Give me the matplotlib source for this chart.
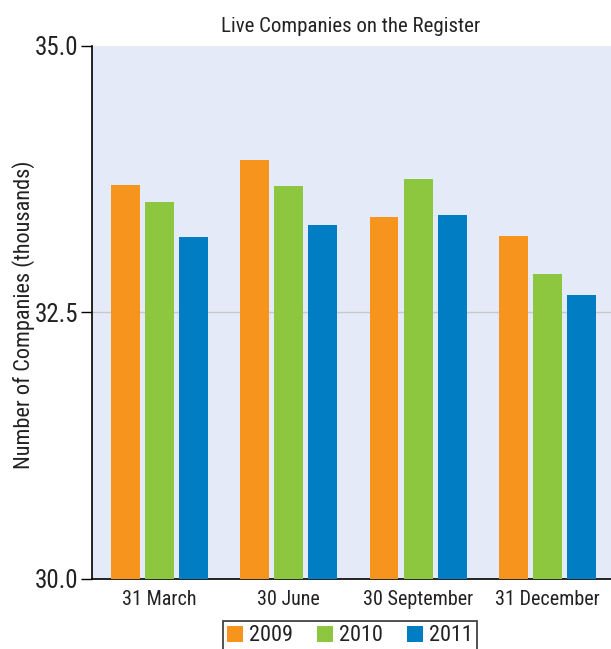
import matplotlib
matplotlib.use("Agg")
import matplotlib.pyplot as plt
import numpy as np

plt.rcParams['font.family'] = ['Liberation Sans Narrow', 'Roboto Condensed', 'Archivo Narrow', 'DejaVu Sans']

categories = ["31 March", "30 June", "30 September", "31 December"]
years = ["2009", "2010", "2011"]
values_2009 = [33.70, 33.93, 33.40, 33.22]
values_2010 = [33.54, 33.69, 33.75, 32.86]
values_2011 = [33.21, 33.32, 33.41, 32.66]
colors = ["#F7941D", "#8DC63F", "#007DC3"]
yticks = [30.0, 32.5, 35.0]

fig = plt.figure(figsize=(6.11, 6.49), dpi=100)
ax = fig.add_axes([92 / 611, 1 - 579 / 649, 519 / 611, 533 / 649])
ax.set_facecolor("#E4EAF7")

x = np.arange(len(categories))
step = 0.263
width = 0.222
for i, (vals, year) in enumerate(zip([values_2009, values_2010, values_2011], years)):
    ax.bar(x + (i - 1) * step, np.array(vals) - 30.0, bottom=30.0, width=width,
           color=colors[i], label=year, zorder=3)

ax.set_ylim(30.0, 35.0)
ax.set_xlim(-0.52, 3.49)
ax.set_yticks(yticks)
ax.set_yticklabels([f"{v:.1f}" for v in yticks], fontsize=18, color="#222222")
ax.set_xticks(x)
ax.set_xticklabels(categories, fontsize=14.5, color="#222222")
ax.tick_params(axis='x', length=0, pad=8)
ax.tick_params(axis='y', length=8, width=1, pad=2)
ax.axhline(32.5, color="#C8C8C8", lw=1, zorder=1)

for side in ("top", "right"):
    ax.spines[side].set_visible(False)
ax.spines["left"].set_linewidth(1.2)
ax.spines["bottom"].set_linewidth(1.2)

fig.text(24 / 611, 1 - 315 / 649, "Number of Companies (thousands)",
         rotation=90, ha="center", va="center", fontsize=16, color="#222222")
fig.text(351 / 611, 1 - 32 / 649, "Live Companies on the Register",
         ha="center", va="baseline", fontsize=15, color="#222222")

leg = fig.legend(loc="upper center", bbox_to_anchor=(350 / 611, 1 - 621 / 649),
                 ncol=3, fontsize=16, frameon=True, fancybox=False,
                 edgecolor="black", handlelength=0.72, handleheight=0.72,
                 handletextpad=0.25, columnspacing=1.1, borderpad=0.2,
                 borderaxespad=0)
leg.get_frame().set_linewidth(1.2)
for t in leg.get_texts():
    t.set_color("#222222")

fig.savefig("out.png", dpi=100)
